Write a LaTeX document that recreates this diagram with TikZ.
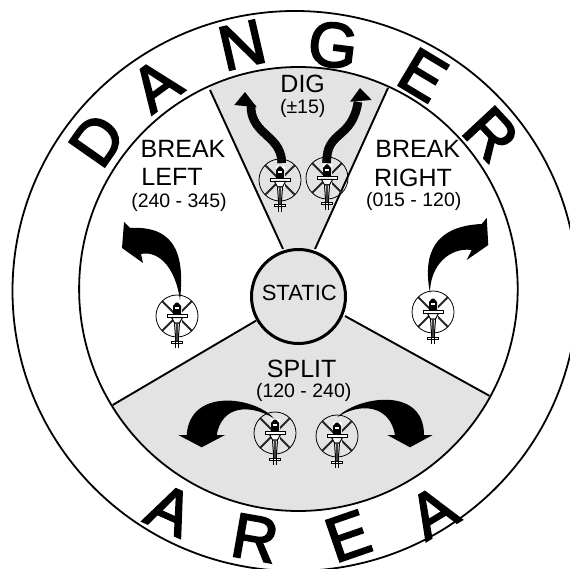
\documentclass[tikz,border=0pt]{standalone}
\usepackage{fontspec}
\usepackage{xcolor}
\setmainfont{Liberation Sans}
\newfontfamily\bannerfont[FakeBold=3]{Liberation Sans}
\definecolor{sectorColor}{HTML}{E3E3E3}
\tikzset{
    ring/.style={line width=1.8pt},
    wedge/.style={line width=1.9pt},
    bigtext/.style={inner sep=0pt, font=\fontsize{25}{25}\selectfont},
    smalltext/.style={inner sep=0pt, font=\fontsize{19.5}{19.5}\selectfont},
    banner/.style={inner sep=0pt, font=\bannerfont\fontsize{63}{63}\selectfont},
    heli/.pic={
        \draw[line width=0.8pt] (0,0) circle (21pt);
        \draw[line width=1.9pt, black!85] (-15,-15) -- (15,15) (15,-15) -- (-15,15);
        \fill[white] (-4.5,-14) rectangle (4.5,8);
        \fill[black] (-1,-13.5) -- (1,-13.5) -- (4,-10) -- (4,-2) -- (-4,-2) -- (-4,-10) -- cycle;
        \fill[white] (-2,-9) rectangle (2,-7);
        \draw[line width=1pt, fill=white] (-10,-1.5) rectangle (10,1.5);
        \draw[line width=1pt, fill=white] (-5.5,1.5) -- (5.5,1.5) -- (2.5,7) -- (-2.5,7) -- cycle;
        \draw[line width=1pt, fill=white] (-2.5,7) -- (2.5,7) -- (1.2,25) -- (-1.2,25) -- cycle;
        \fill[black!75] (-0.6,7) rectangle (0.6,25);
        \draw[line width=1pt, fill=white] (-6,25) rectangle (5,27);
        \draw[line width=1.2pt] (-1.5,21) -- (-1.5,32) (1.5,21) -- (1.5,32);
    }
}

\begin{document}
\begin{tikzpicture}[x=1pt, y=-1pt]
    \clip (0,0) rectangle (570,569);
    \fill[white] (0,0) rectangle (570,569);

    % rings and sectors
    \draw[ring] (295,291) circle [x radius=282.5pt, y radius=280pt];
    \begin{scope}
        \clip (298.4,289) circle [x radius=219.3pt, y radius=222pt];
        \fill[sectorColor] (210,90) -- (283,249) -- (315,249) -- (388,88) -- (388,40) -- (210,40) -- cycle;
        \fill[sectorColor] (112.7,405) -- (256,320.7) -- (345,316) -- (489.3,395.7) -- (489.3,530) -- (112.7,530) -- cycle;
    \end{scope}
    \draw[ring] (298.4,289) circle [x radius=219.3pt, y radius=222pt];
    \draw[wedge] (210,90) -- (283,249);
    \draw[wedge] (388,88) -- (315,249);
    \draw[wedge] (112.7,405) -- (256,320.7);
    \draw[wedge] (489.3,395.7) -- (345,316);
    \node[circle, draw, line width=3pt, fill=sectorColor, minimum size=94pt, inner sep=0pt] (hub) at (298.5,296.5) {};
    \node[inner sep=0pt, font=\fontsize{22}{22}\selectfont] (static) at (299.3,292.7) {STATIC};

    % banner letters
    \foreach \px/\py/\ang/\ltr in {97/140/55/D, 156/85/36/A, 242/45/13/N, 333/45/-7/G, 423/75/-31/E, 491/134/-47/R,
        170/510/-24/A, 255/538/-10/R, 348/536/19/E, 433/512/31/A}
        \node[banner, rotate=\ang] (ltr\px) at (\px,\py) {\ltr};

    % sector labels
    \node[bigtext] (digname) at (302.7,84) {DIG};
    \node[smalltext] (digrange) at (302.7,108) {(±15)};
    \node[bigtext] (leftname) at (183,149) {BREAK};
    \node[bigtext] (leftword) at (172,177) {LEFT};
    \node[smalltext] (leftrange) at (179,202.5) {(240 - 345)};
    \node[bigtext] (rightname) at (417.7,149) {BREAK};
    \node[bigtext] (rightword) at (413,177.5) {RIGHT};
    \node[smalltext] (rightrange) at (413.7,201.5) {(015 - 120)};
    \node[bigtext] (splitname) at (301.7,369) {SPLIT};
    \node[smalltext] (splitrange) at (303.7,392) {(120 - 240)};

    % helicopters
    \foreach \px/\py in {280/180, 327/178, 177/316, 433/312, 275/433, 337/436}
        \pic at (\px,\py) {heli};

    % turn arrows
    \fill (180,300) .. controls (184,262) and (180,225) .. (130,228) -- (124,222) -- (122,248) -- (143,263) -- (141,254)
        .. controls (160,250) and (176,270) .. (180,300) -- cycle;
    \fill (430,293) .. controls (422,252) and (436,226) .. (481.7,224) -- (486.7,218) -- (488.3,245) -- (466.7,260) -- (471.7,250)
        .. controls (450,247) and (430,265) .. (430,293) -- cycle;
    \fill (274,418.3) .. controls (255,397) and (190,387) .. (186.7,435) -- (178.3,435) -- (201.7,447.3) -- (225,435) -- (216.7,435)
        .. controls (222,405) and (250,404) .. (274,418.3) -- cycle;
    \fill (337.3,417.3) .. controls (356,397) and (424,385) .. (424,435) -- (432.7,435) -- (410,447.3) -- (387.3,435) -- (395,435)
        .. controls (390,405) and (360,402) .. (337.3,417.3) -- cycle;

    % ribbed arrows of the dig sector
    \draw[line width=8.5pt, black!90] (281.7,163) .. controls (282,135) and (250,135) .. (251,105);
    \draw[line width=8.5pt, dash pattern=on 1.4pt off 0.6pt] (281.7,163) .. controls (282,135) and (250,135) .. (251,105);
    \fill (245,92) -- (234.3,105) -- (256.7,107.3) -- cycle;
    \draw[line width=8.5pt, black!90] (326.7,163) .. controls (326,130) and (352,140) .. (358,102);
    \draw[line width=8.5pt, dash pattern=on 1.4pt off 0.6pt] (326.7,163) .. controls (326,130) and (352,140) .. (358,102);
    \fill (360,88) -- (350,101.7) -- (371.7,100) -- cycle;
\end{tikzpicture}
\end{document}
